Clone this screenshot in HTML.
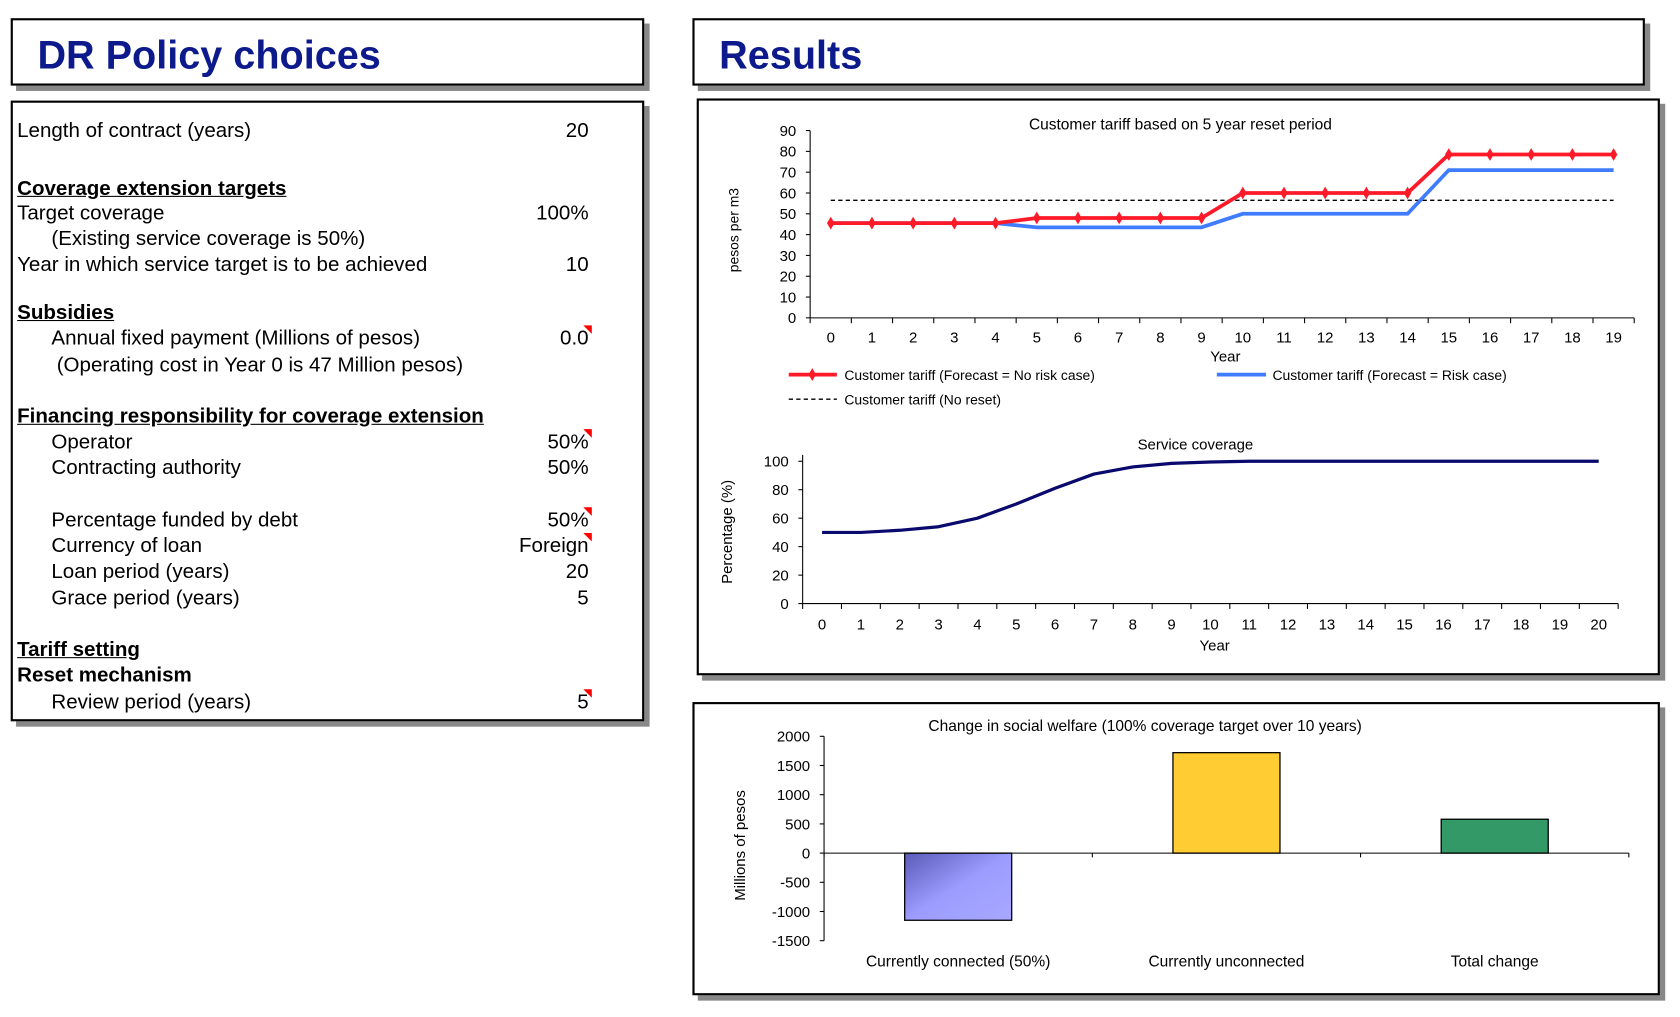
<!DOCTYPE html>
<html><head><meta charset="utf-8">
<style>
html,body{margin:0;padding:0;background:#fff;width:1680px;height:1017px;overflow:hidden}
#wrap{position:absolute;left:0;top:0;width:1570px;height:950px;transform:scale(1.0702);transform-origin:0 0;font-family:"Liberation Sans",Arial,sans-serif;color:#000}
.box{position:absolute;border:2px solid #000;background:#fff;box-shadow:5px 5px 0 #888}
.t{position:absolute;font-size:19.2px;white-space:nowrap;line-height:1}
.v{position:absolute;font-size:19.2px;white-space:nowrap;line-height:1;right:1020px;text-align:right}
.h{font-weight:bold;text-decoration:underline}
.title{position:absolute;font-size:37px;font-weight:bold;color:#0c1a8c;line-height:1}
.tri{position:absolute;width:0;height:0;border-top:8px solid #f00;border-left:8px solid transparent}
svg text{font-family:"Liberation Sans",Arial,sans-serif}
</style></head><body>
<div id="wrap">
<div class="box" style="left:10px;top:17px;width:588px;height:59px"></div>
<div class="title" style="left:35px;top:33px">DR Policy choices</div>
<div class="box" style="left:647px;top:17px;width:886px;height:59px"></div>
<div class="title" style="left:672px;top:33px">Results</div>

<div class="box" style="left:10px;top:94px;width:588px;height:576px"></div>
<div class="t" style="left:16px;top:113px">Length of contract (years)</div>
<div class="v" style="top:113px">20</div>
<div class="t h" style="left:16px;top:167px">Coverage extension targets</div>
<div class="t" style="left:16px;top:190px">Target coverage</div>
<div class="v" style="top:190px">100%</div>
<div class="t" style="left:48px;top:214px">(Existing service coverage is 50%)</div>
<div class="t" style="left:16px;top:238px">Year in which service target is to be achieved</div>
<div class="v" style="top:238px">10</div>
<div class="t h" style="left:16px;top:283px">Subsidies</div>
<div class="t" style="left:48px;top:307px">Annual fixed payment (Millions of pesos)</div>
<div class="v" style="top:307px">0.0</div>
<div class="tri" style="left:545px;top:304px"></div>
<div class="t" style="left:53px;top:332px">(Operating cost in Year 0 is 47 Million pesos)</div>
<div class="t h" style="left:16px;top:380px">Financing responsibility for coverage extension</div>
<div class="t" style="left:48px;top:404px">Operator</div>
<div class="v" style="top:404px">50%</div>
<div class="tri" style="left:545px;top:401px"></div>
<div class="t" style="left:48px;top:428px">Contracting authority</div>
<div class="v" style="top:428px">50%</div>
<div class="t" style="left:48px;top:477px">Percentage funded by debt</div>
<div class="v" style="top:477px">50%</div>
<div class="tri" style="left:545px;top:474px"></div>
<div class="t" style="left:48px;top:501px">Currency of loan</div>
<div class="v" style="top:501px">Foreign</div>
<div class="tri" style="left:545px;top:498px"></div>
<div class="t" style="left:48px;top:525px">Loan period (years)</div>
<div class="v" style="top:525px">20</div>
<div class="t" style="left:48px;top:550px">Grace period (years)</div>
<div class="v" style="top:550px">5</div>
<div class="t h" style="left:16px;top:598px">Tariff setting</div>
<div class="t" style="left:16px;top:622px;font-weight:bold">Reset mechanism</div>
<div class="t" style="left:48px;top:647px">Review period (years)</div>
<div class="v" style="top:647px">5</div>
<div class="tri" style="left:545px;top:644px"></div>

<div class="box" style="left:651px;top:92px;width:896px;height:535px"></div>
<div class="box" style="left:647px;top:656px;width:900px;height:270px"></div>

<svg id="svg" width="1570" height="950" style="position:absolute;left:0;top:0"></svg>
</div>
<script>
const tariffYears=[0,1,2,3,4,5,6,7,8,9,10,11,12,13,14,15,16,17,18,19];
const tariffNoRisk=[45.5,45.5,45.5,45.5,45.5,48,48,48,48,48,60,60,60,60,60,78.5,78.5,78.5,78.5,78.5];
const tariffRisk=[45.5,45.5,45.5,45.5,45.5,43.5,43.5,43.5,43.5,43.5,50,50,50,50,50,71,71,71,71,71];
const tariffNoReset=[56.5,56.5,56.5,56.5,56.5,56.5,56.5,56.5,56.5,56.5,56.5,56.5,56.5,56.5,56.5,56.5,56.5,56.5,56.5,56.5];
const tariffTicks=[0,10,20,30,40,50,60,70,80,90];
const covYears=[0,1,2,3,4,5,6,7,8,9,10,11,12,13,14,15,16,17,18,19,20];
const coverage=[50,50,51.5,54,60,70,81,91,96,98.5,99.5,100,100,100,100,100,100,100,100,100,100];
const covTicks=[0,20,40,60,80,100];
const welfareCats=["Currently connected (50%)","Currently unconnected","Total change"];
const welfareVals=[-1150,1720,580];
const welfareColors=["url(#g1)","#ffcc33","#339966"];
const welfareTicks=[-1500,-1000,-500,0,500,1000,1500,2000];

const svg=document.getElementById('svg');
const NS='http://www.w3.org/2000/svg';
function mk(tag,attrs,parent){const e=document.createElementNS(NS,tag);for(const k in attrs)e.setAttribute(k,attrs[k]);(parent||svg).appendChild(e);return e;}
function txt(x,y,s,size,anchor,parent,rot){const e=mk('text',{x:x,y:y,'font-size':size,'text-anchor':anchor||'middle'},parent);if(rot)e.setAttribute('transform','rotate(-90 '+x+' '+y+')');e.textContent=s;return e;}
const defs=mk('defs',{});
const lg=mk('linearGradient',{id:'g1',x1:'0',y1:'0',x2:'1',y2:'1'},defs);
mk('stop',{offset:'0','stop-color':'#5a5ab8'},lg);mk('stop',{offset:'0.5','stop-color':'#9c9cff'},lg);mk('stop',{offset:'1','stop-color':'#a8a8ff'},lg);

(function(){
const g=mk('g',{});

const L=757,R=1527,T=122,B=297,maxY=90;
const cw=(R-L)/tariffYears.length;
const xs=i=>L+cw*(i+0.5);const ys=v=>B-(v/maxY)*(B-T);
mk('line',{x1:L,y1:T,x2:L,y2:B,stroke:'#000'},g);
mk('line',{x1:L,y1:B,x2:R,y2:B,stroke:'#000'},g);
tariffTicks.forEach(t=>{mk('line',{x1:L-4,y1:ys(t),x2:L,y2:ys(t),stroke:'#000'},g);const e=txt(L-13,ys(t)+5,t,14,'end',g);});
for(let i=0;i<=tariffYears.length;i++)mk('line',{x1:L+cw*i,y1:B,x2:L+cw*i,y2:B+5,stroke:'#000'},g);
tariffYears.forEach((y,i)=>{const e=txt(xs(i),320,y,14,'middle',g);});
const pts=a=>a.map((v,i)=>xs(i)+','+ys(v)).join(' ');
const d=mk('polyline',{points:pts(tariffNoReset),fill:'none',stroke:'#000','stroke-width':1.3,'stroke-dasharray':'4,3'},g);

const b=mk('polyline',{points:pts(tariffRisk),fill:'none',stroke:'#3f7cff','stroke-width':3.5},g);

const r=mk('polyline',{points:pts(tariffNoRisk),fill:'none',stroke:'#ff1a2a','stroke-width':3.5},g);

tariffNoRisk.forEach((v,i)=>{const x=xs(i),y=ys(v);const m=mk('polygon',{points:`${x},${y-6} ${x+3.5},${y} ${x},${y+6} ${x-3.5},${y}`,fill:'#ff1a2a'},g);});
const tt=txt(1103,121,'Customer tariff based on 5 year reset period',14.5,'middle',g);
const yl=txt(690,215,'pesos per m3',13,'middle',g,true);
const xl=txt(1145,338,'Year',14,'middle',g);
mk('line',{x1:737,y1:350,x2:782,y2:350,stroke:'#ff1a2a','stroke-width':3.5},g);
mk('polygon',{points:'759,344 762.5,350 759,356 755.5,350',fill:'#ff1a2a'},g);
let e=txt(789,355,'Customer tariff (Forecast = No risk case)',13,'start',g);
mk('line',{x1:1137,y1:350,x2:1183,y2:350,stroke:'#3f7cff','stroke-width':3.5},g);
e=txt(1189,355,'Customer tariff (Forecast = Risk case)',13,'start',g);
mk('line',{x1:737,y1:373,x2:782,y2:373,stroke:'#000','stroke-width':1.3,'stroke-dasharray':'4,3'},g);
e=txt(789,378,'Customer tariff (No reset)',13,'start',g);
})();

(function(){
const g=mk('g',{});

const L=750,R=1512,T=431,B=564,maxY=100;
const cw=(R-L)/covYears.length;
const xs=i=>L+cw*(i+0.5);const ys=v=>B-(v/maxY)*(B-T);
mk('line',{x1:L,y1:T-6,x2:L,y2:B,stroke:'#000'},g);
mk('line',{x1:L,y1:B,x2:R,y2:B,stroke:'#000'},g);
covTicks.forEach(t=>{mk('line',{x1:L-4,y1:ys(t),x2:L,y2:ys(t),stroke:'#000'},g);const e=txt(L-13,ys(t)+5,t,14,'end',g);});
for(let i=0;i<=covYears.length;i++)mk('line',{x1:L+cw*i,y1:B,x2:L+cw*i,y2:B+5,stroke:'#000'},g);
covYears.forEach((y,i)=>{const e=txt(xs(i),588,y,14,'middle',g);});
const p=mk('polyline',{points:coverage.map((v,i)=>xs(i)+','+ys(v)).join(' '),fill:'none',stroke:'#0a0a6e','stroke-width':3,'stroke-linejoin':'round'},g);

let e=txt(1117,420,'Service coverage',14,'middle',g);
e=txt(684,497,'Percentage (%)',14,'middle',g,true);
e=txt(1135,608,'Year',14,'middle',g);
})();

(function(){
const g=mk('g',{});

const L=770,R=1522,T=688,B=879,minY=-1500,maxY=2000;
const cw=(R-L)/welfareCats.length;
const ys=v=>B-((v-minY)/(maxY-minY))*(B-T);
mk('line',{x1:L,y1:T,x2:L,y2:B,stroke:'#000'},g);
welfareTicks.forEach(t=>{mk('line',{x1:L-4,y1:ys(t),x2:L,y2:ys(t),stroke:'#000'},g);const e=txt(L-13,ys(t)+5,t,14,'end',g);});
welfareVals.forEach((v,i)=>{const cx=L+cw*(i+0.5);const y0=ys(0),y1=ys(v);
const r=mk('rect',{x:cx-50,y:Math.min(y0,y1),width:100,height:Math.abs(y1-y0),fill:welfareColors[i],stroke:'#000','stroke-width':1.2},g);

const e=txt(cx,903,welfareCats[i],14.5,'middle',g);});
mk('line',{x1:L,y1:ys(0),x2:R,y2:ys(0),stroke:'#000'},g);
for(let i=0;i<=welfareCats.length;i++)mk('line',{x1:L+cw*i,y1:ys(0),x2:L+cw*i,y2:ys(0)+4,stroke:'#000'},g);
let e=txt(1070,683,'Change in social welfare (100% coverage target over 10 years)',14.5,'middle',g);
e=txt(696,790,'Millions of pesos',14,'middle',g,true);
})();
</script>
</body></html>
